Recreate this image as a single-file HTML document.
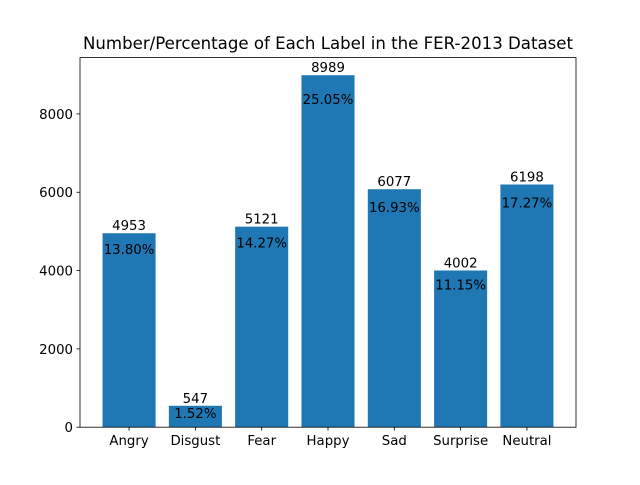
<!DOCTYPE html>
<html><head><meta charset="utf-8"><style>
body{margin:0;background:#fff}
svg{font-family:"DejaVu Sans","Liberation Sans",sans-serif}
</style></head><body>
<svg id="chart" width="640" height="480">
<rect width="640" height="480" fill="#fff"/>
<text x="328" y="49" font-size="16.6" text-anchor="middle">Number/Percentage of Each Label in the FER-2013 Dataset</text>
<g id="bars"></g>
<g id="axes"></g>
</svg>
<script>
const categories=["Angry","Disgust","Fear","Happy","Sad","Surprise","Neutral"];
const counts=[4953,547,5121,8989,6077,4002,6198];
const percents=["13.80%","1.52%","14.27%","25.05%","16.93%","11.15%","17.27%"];
const yTicks=[0,2000,4000,6000,8000];
const L=80,R=576,T=57.6,B=427.2;
const ymax=Math.max(...counts)*1.05;
const xmin=-0.74,xmax=categories.length-1+0.74;
const xs=v=>L+(v-xmin)/(xmax-xmin)*(R-L);
const ys=v=>B-v/ymax*(B-T);
const NS="http://www.w3.org/2000/svg";
function mk(tag,attrs,parent,text){const e=document.createElementNS(NS,tag);for(const k in attrs)e.setAttribute(k,attrs[k]);if(text!==undefined)e.textContent=text;parent.appendChild(e);return e;}
const bars=document.getElementById('bars'),axes=document.getElementById('axes');
categories.forEach((c,i)=>{
  const x0=xs(i-0.4),x1=xs(i+0.4),y=ys(counts[i]);
  const r=mk('rect',{x:x0,y:y,width:x1-x0,height:B-y,fill:'#1f77b4'},bars);
  
  
  const t=mk('text',{x:xs(i),y:y-3,'font-size':13.3,'text-anchor':'middle'},bars,String(counts[i]));
  
  
  const p=mk('text',{x:xs(i),y:ys(counts[i]*0.95)+11,'font-size':13.3,'text-anchor':'middle'},bars,percents[i]);
  
  
  mk('line',{x1:xs(i),x2:xs(i),y1:B,y2:B+3.5,stroke:'#000','stroke-width':0.8},axes);
  const xl=mk('text',{x:xs(i),y:B+18,'font-size':13.3,'text-anchor':'middle'},axes,c);
  
  
});
yTicks.forEach(v=>{
  mk('line',{x1:L-3.5,x2:L,y1:ys(v),y2:ys(v),stroke:'#000','stroke-width':0.8},axes);
  const t=mk('text',{x:L-7,y:ys(v)+5,'font-size':13.3,'text-anchor':'end'},axes,String(v));
  
  
});
const f=mk('rect',{x:L,y:T,width:R-L,height:B-T,fill:'none',stroke:'#000','stroke-width':0.8},axes);


</script>
</body></html>
